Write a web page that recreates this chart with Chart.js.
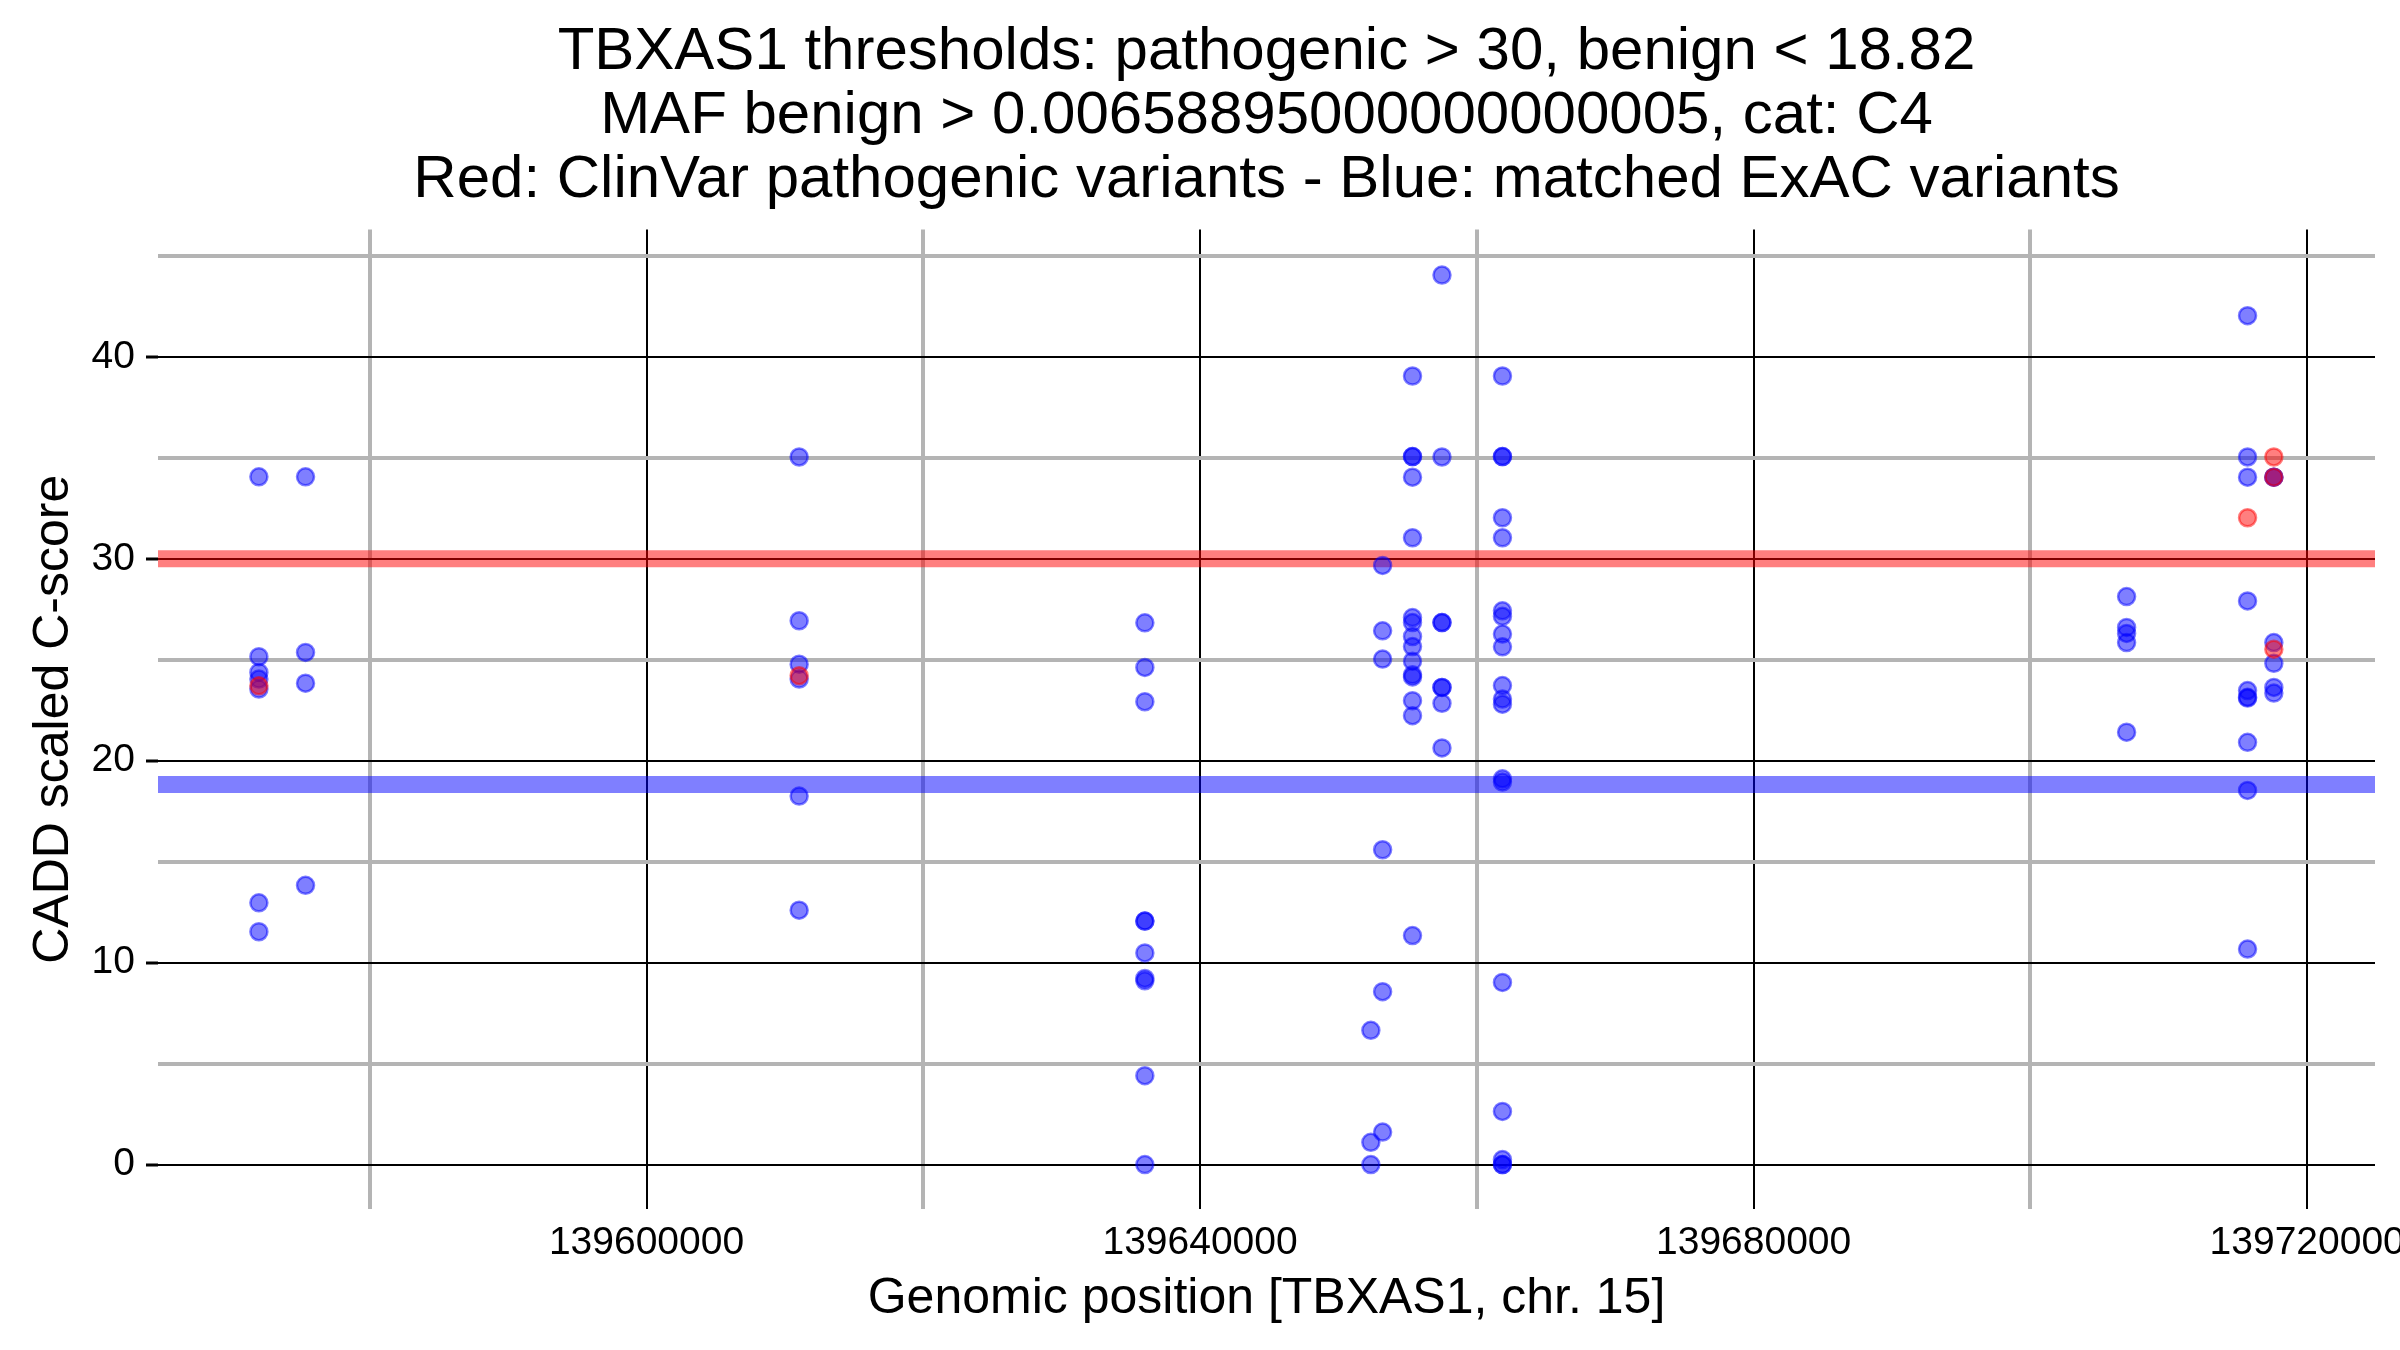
<!DOCTYPE html>
<html>
<head>
<meta charset="utf-8">
<script src="https://cdn.jsdelivr.net/npm/chart.js@4.4.1/dist/chart.umd.min.js"></script>
<style>
  html, body { margin: 0; padding: 0; background: #ffffff; overflow: hidden; }
  #wrap { width: 2400px; height: 1350px; }
</style>
</head>
<body>
<div id="wrap"><canvas id="chart" width="2400" height="1350"></canvas></div>
<script>
// Title lines
const titleLines = [
  'TBXAS1 thresholds: pathogenic > 30, benign < 18.82',
  'MAF benign > 0.00658895000000000005, cat: C4',
  'Red: ClinVar pathogenic variants - Blue: matched ExAC variants',
];

// thresholds
const pathogenicThreshold = 30;
const benignThreshold = 18.82;

// axis ranges (ggplot style 5% expansion)
const xMin = 139564700;
const xMax = 139724900;
const yMin = -2.2;
const yMax = 46.3;
// grid / tick positions
const xTickValues = [139580000, 139600000, 139620000, 139640000, 139660000, 139680000, 139700000, 139720000];
const xLabelStep = 40000;
const yStep = 5;
const yLabelStep = 10;

// matched ExAC variants (blue)
const blueX = [
  139571990, 139571990, 139571990, 139571990, 139571990, 139571990, 139571990,
  139575360, 139575360, 139575360, 139575360,
  139611030, 139611030, 139611030, 139611030, 139611030, 139611030,
  139636010, 139636010, 139636010, 139636010, 139636010, 139636010, 139636010, 139636010, 139636010, 139636010,
  139652340, 139652340, 139652340,
  139653190, 139653190, 139653190, 139653190, 139653190, 139653190,
  139655350, 139655350, 139655350, 139655350, 139655350, 139655350, 139655350, 139655350,
  139655350, 139655350, 139655350, 139655350, 139655350, 139655350, 139655350,
  139657480, 139657480, 139657480, 139657480, 139657480, 139657480, 139657480, 139657480,
  139661850, 139661850, 139661850, 139661850, 139661850, 139661850, 139661850, 139661850, 139661850, 139661850,
  139661850, 139661850, 139661850, 139661850, 139661850, 139661850, 139661850, 139661850, 139661850,
  139706950, 139706950, 139706950, 139706950, 139706950,
  139715690, 139715690, 139715690, 139715690, 139715690, 139715690, 139715690, 139715690, 139715690, 139715690,
  139717590, 139717590, 139717590, 139717590, 139717590, 139717590,
];
const blueY = [
  34.06, 25.15, 24.37, 24.04, 23.55, 12.96, 11.53,
  34.06, 25.36, 23.84, 13.83,
  35.04, 26.93, 24.78, 24.04, 18.25, 12.6,
  26.83, 24.62, 22.92, 12.06, 12.06, 10.48, 9.22, 9.1, 4.4, 0,
  6.65, 1.1, 0,
  29.67, 26.43, 25.03, 15.59, 8.56, 1.61,
  39.05, 35.06, 35.06, 34.04, 31.04, 27.09, 26.84, 26.15,
  25.65, 24.93, 24.25, 24.15, 22.97, 22.23, 11.34,
  44.05, 35.04, 26.84, 26.84, 23.63, 23.63, 22.84, 20.63,
  39.05, 35.06, 35.06, 32.03, 31.04, 27.42, 27.15, 26.27, 25.64, 23.72,
  23.05, 22.8, 19.1, 18.94, 9.02, 2.63, 0.25, 0, 0,
  28.13, 26.6, 26.3, 25.85, 21.41,
  42.04, 35.04, 34.04, 27.91, 23.47, 23.14, 23.1, 20.91, 18.53, 10.67,
  34.04, 34.04, 25.85, 24.82, 23.63, 23.35,
];

// ClinVar pathogenic variants (red)
const redX = [139571990, 139611030, 139715690, 139717590, 139717590, 139717590];
const redY = [23.71, 24.21, 32.03, 35.04, 34.04, 25.52];

const toPoints = (xs, ys) => xs.map((x, i) => ({ x: x, y: ys[i] }));

const fontFamily = '"Liberation Sans", Arial, Helvetica, sans-serif';
const gray = '#b4b4b4';

const isMultiple = (v, step) => Math.abs(v / step - Math.round(v / step)) < 1e-6;

const ctx = document.getElementById('chart');
const chart = new Chart(ctx, {
  data: {
    datasets: [
      {
        type: 'scatter',
        label: 'ClinVar',
        data: toPoints(redX, redY),
        backgroundColor: 'rgba(255,0,0,0.5)',
        borderColor: 'rgba(255,0,0,0.5)',
        borderWidth: 2.5,
        pointRadius: 8.5,
      },
      {
        type: 'scatter',
        label: 'ExAC',
        data: toPoints(blueX, blueY),
        backgroundColor: 'rgba(0,0,255,0.5)',
        borderColor: 'rgba(0,0,255,0.5)',
        borderWidth: 2.5,
        pointRadius: 8.5,
      },
      {
        type: 'line',
        label: 'pathogenic',
        data: [{ x: xMin, y: pathogenicThreshold }, { x: xMax, y: pathogenicThreshold }],
        borderColor: 'rgba(255,0,0,0.5)',
        borderWidth: 17,
        pointRadius: 0,
        borderCapStyle: 'butt',
      },
      {
        type: 'line',
        label: 'benign',
        data: [{ x: xMin, y: benignThreshold }, { x: xMax, y: benignThreshold }],
        borderColor: 'rgba(0,0,255,0.5)',
        borderWidth: 17,
        pointRadius: 0,
        borderCapStyle: 'butt',
      },
    ],
  },
  options: {
    responsive: false,
    animation: false,
    devicePixelRatio: 1,
    layout: { padding: { left: 0, right: 25, top: 0, bottom: 0 } },
    plugins: {
      legend: { display: false },
      tooltip: { enabled: false },
      title: {
        display: true,
        fullSize: false,
        text: titleLines,
        color: '#000000',
        font: { family: fontFamily, size: 60, weight: 'normal', lineHeight: 1.07 },
        padding: { top: 20, bottom: 17 },
      },
    },
    scales: {
      x: {
        type: 'linear',
        min: xMin,
        max: xMax,
        border: { display: false },
        grid: {
          drawTicks: false,
          color: (c) => (isMultiple(c.tick.value, xLabelStep) ? '#000000' : gray),
          lineWidth: (c) => (isMultiple(c.tick.value, xLabelStep) ? 2 : 4),
        },
        afterBuildTicks: (axis) => {
          axis.ticks = xTickValues.map((v) => ({ value: v }));
        },
        ticks: {
          autoSkip: false,
          maxRotation: 0,
          padding: 11,
          color: '#000000',
          font: { family: fontFamily, size: 39 },
          callback: (v) => (isMultiple(v, xLabelStep) ? String(Math.round(v)) : ''),
        },
        title: {
          display: true,
          text: 'Genomic position [TBXAS1, chr. 15]',
          color: '#000000',
          font: { family: fontFamily, size: 50 },
          padding: { top: 0, bottom: 21 },
        },
        afterFit: (axis) => {
          axis.height = 141;
          axis.paddingRight = 0;
          axis.paddingLeft = 0;
        },
      },
      y: {
        type: 'linear',
        min: yMin,
        max: yMax,
        border: { display: false },
        grid: {
          drawTicks: true,
          tickLength: 12,
          tickWidth: 3,
          tickColor: (c) => (isMultiple(c.tick.value, yLabelStep) ? '#000000' : 'rgba(0,0,0,0)'),
          color: (c) => (isMultiple(c.tick.value, yLabelStep) ? '#000000' : gray),
          lineWidth: (c) => (isMultiple(c.tick.value, yLabelStep) ? 2 : 4),
        },
        ticks: {
          stepSize: yStep,
          includeBounds: false,
          autoSkip: false,
          padding: 11,
          color: '#000000',
          font: { family: fontFamily, size: 39 },
          callback: (v) => (isMultiple(v, yLabelStep) ? String(Math.round(v)) : ''),
        },
        title: {
          display: true,
          text: 'CADD scaled C-score',
          color: '#000000',
          font: { family: fontFamily, size: 50 },
          padding: { top: 24, bottom: 0 },
        },
        afterFit: (axis) => {
          axis.width = 158;
          axis.paddingTop = 0;
          axis.paddingBottom = 0;
        },
      },
    },
  },
});
</script>
</body>
</html>
